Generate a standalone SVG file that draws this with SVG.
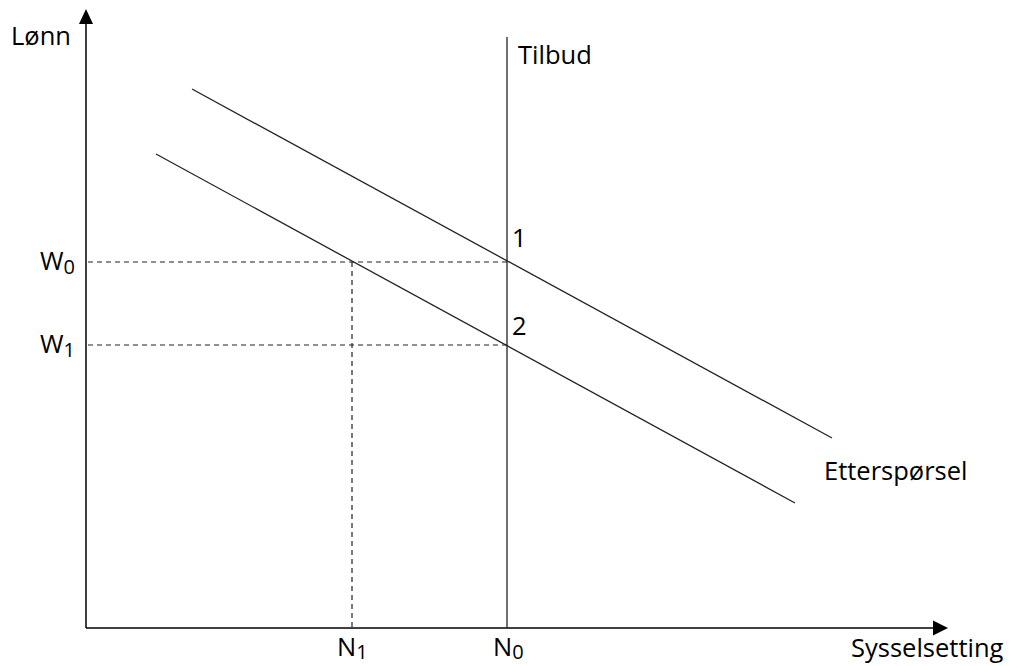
<svg xmlns="http://www.w3.org/2000/svg" width="1014" height="666" viewBox="0 0 1014 666">
<style>
.t{font-family:"Open Sans","Liberation Sans",sans-serif;font-size:25.5px;fill:#000}
.s{font-size:20px}
.ax{stroke:#000;stroke-width:1.5;fill:none}
.ln{stroke:#222;stroke-width:1.3;fill:none}
.d{stroke:#222;stroke-width:1.2;stroke-dasharray:5 4;fill:none}
</style>
<rect width="1014" height="666" fill="#fff"/>
<g id="connectors">
<line class="d" x1="88" y1="262" x2="507" y2="262"/>
<line class="d" x1="88" y1="345" x2="507" y2="345"/>
<line class="d" x1="352" y1="262" x2="352" y2="628"/>
</g>
<g id="axes">
<line class="ax" x1="86" y1="628" x2="86" y2="24"/>
<path d="M79,24 L86,9 L93,24 z" fill="#000"/>
<line class="ax" x1="86" y1="628" x2="934" y2="628"/>
<path d="M933,620.5 L948,628 L933,635.5 z" fill="#000"/>
<text class="t" x="11" y="45">Lønn</text>
<text class="t" x="851" y="657">Sysselsetting</text>
</g>
<g id="tilbud">
<line class="ln" x1="507" y1="37" x2="507" y2="628"/>
<text class="t" x="518" y="64">Tilbud</text>
</g>
<g id="etterspørsel1">
<line class="ln" x1="192" y1="89" x2="832" y2="438"/>
</g>
<g id="etterspørsel2">
<line class="ln" x1="156" y1="154" x2="795" y2="503"/>
<text class="t" x="824" y="480">Etterspørsel</text>
</g>
<g id="punkt1"><text class="t" x="512" y="247">1</text></g>
<g id="punkt2"><text class="t" x="512" y="335">2</text></g>
<g id="w0"><text class="t" x="40" y="270">W<tspan class="s" dy="4">0</tspan></text></g>
<g id="w1"><text class="t" x="40" y="353">W<tspan class="s" dy="4">1</tspan></text></g>
<g id="n1"><text class="t" x="337" y="656">N<tspan class="s" dy="3">1</tspan></text></g>
<g id="n0"><text class="t" x="493" y="656">N<tspan class="s" dy="3">0</tspan></text></g>
</svg>
